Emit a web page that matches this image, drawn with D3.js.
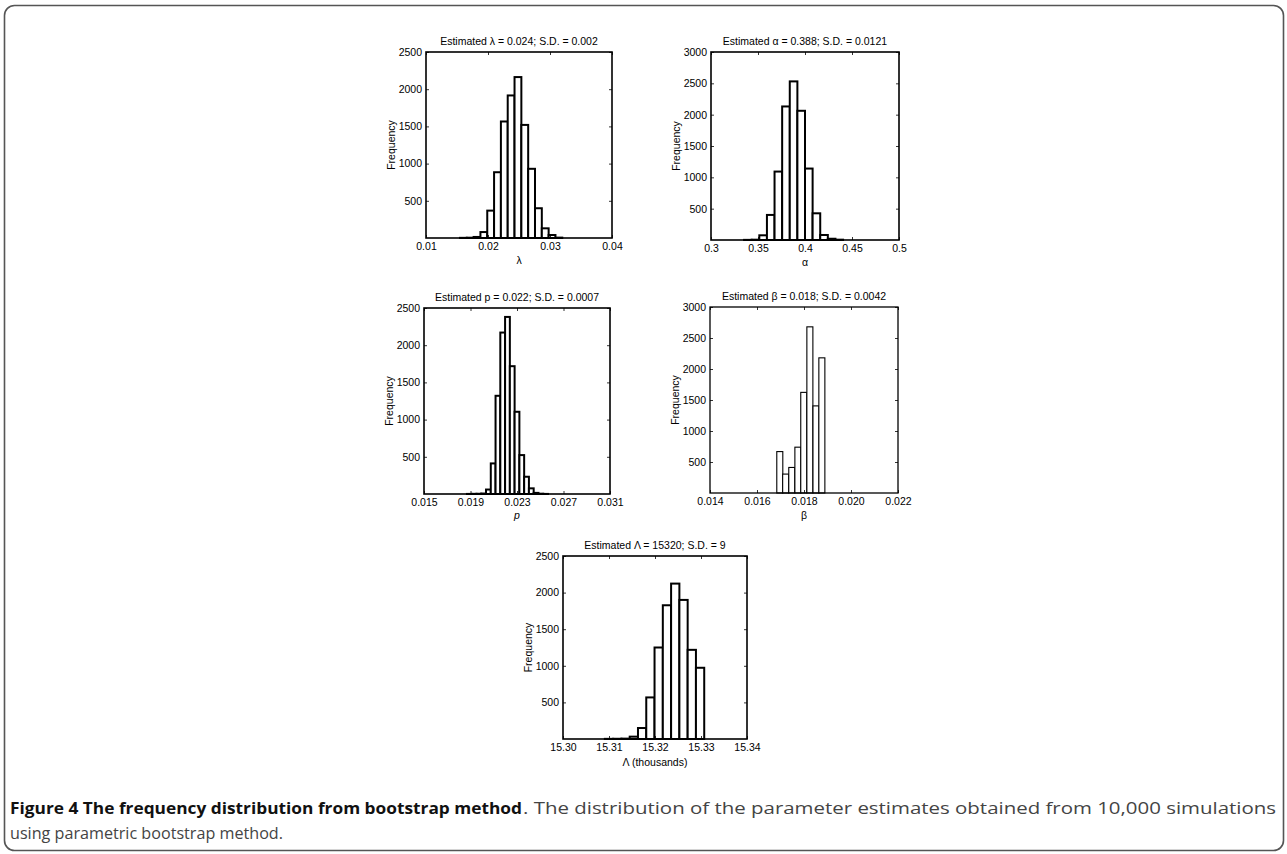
<!DOCTYPE html>
<html>
<head>
<meta charset="utf-8">
<script src="https://cdn.jsdelivr.net/npm/d3@7"></script>
<style>
  body { margin: 0; background: #fff; }
  svg text { font-family: "Liberation Sans", Arial, sans-serif; }
  svg text.caption { font-family: "Open Sans", sans-serif; }
</style>
</head>
<body>
<div id="chart"></div>
<script>
// Histogram values (bin centres + counts)
const lambdaBins = [0.01603, 0.01713, 0.01823, 0.01933, 0.02043, 0.02153, 0.02263, 0.02373, 0.02483, 0.02593, 0.02703, 0.02813, 0.02923, 0.03033, 0.03143];
const lambdaCounts = [2, 4, 14, 80, 368, 884, 1566, 1916, 2163, 1520, 930, 400, 130, 40, 5];
const lambdaWidth = 0.0011;
const lambdaTicks = [0.01, 0.02, 0.03, 0.04];
const lambdaTickLabels = ["0.01", "0.02", "0.03", "0.04"];

const alphaBins = [0.33925, 0.34735, 0.35545, 0.36355, 0.37165, 0.37975, 0.38785, 0.39595, 0.40405, 0.41215, 0.42025, 0.42835, 0.43645];
const alphaCounts = [2, 5, 75, 400, 1092, 2131, 2531, 2062, 1140, 426, 80, 20, 5];
const alphaWidth = 0.0081;
const alphaTicks = [0.3, 0.35, 0.4, 0.45, 0.5];
const alphaTickLabels = ["0.3", "0.35", "0.4", "0.45", "0.5"];

const pBins = [0.01890, 0.01931, 0.01972, 0.02013, 0.02054, 0.02095, 0.02136, 0.02177, 0.02218, 0.02259, 0.02300, 0.02341, 0.02382, 0.02423, 0.02464, 0.02505, 0.02546];
const pCounts = [1, 2, 3, 6, 60, 411, 1320, 2170, 2380, 1718, 1105, 523, 232, 76, 15, 4, 1];
const pWidth = 0.00041;
const pTicks = [0.015, 0.019, 0.023, 0.027, 0.031];
const pTickLabels = ["0.015", "0.019", "0.023", "0.027", "0.031"];

const betaBins = [0.01697, 0.01722, 0.01748, 0.01774, 0.01799, 0.01825, 0.01851, 0.01876];
const betaCounts = [668, 305, 412, 739, 1623, 2680, 1405, 2180];
const betaWidth = 0.000256;
const betaTicks = [0.014, 0.016, 0.018, 0.020, 0.022];
const betaTickLabels = ["0.014", "0.016", "0.018", "0.020", "0.022"];

const bigLambdaBins = [15.3100, 15.3118, 15.3136, 15.3154, 15.3172, 15.3190, 15.3208, 15.3226, 15.3244, 15.3262, 15.3280, 15.3298];
const bigLambdaCounts = [2, 3, 5, 32, 150, 568, 1250, 1827, 2123, 1900, 1218, 973];
const bigLambdaWidth = 0.0018;
const bigLambdaTicks = [15.30, 15.31, 15.32, 15.33, 15.34];
const bigLambdaTickLabels = ["15.30", "15.31", "15.32", "15.33", "15.34"];

const freqTicks2500 = [500, 1000, 1500, 2000, 2500];
const freqTicks3000 = [500, 1000, 1500, 2000, 2500, 3000];

const captionBold = "Figure 4 The frequency distribution from bootstrap method";
const captionRest = ". The distribution of the parameter estimates obtained from 10,000 simulations";
const captionLine2 = "using parametric bootstrap method.";

const W = 1287, H = 854;
const FS = 10.5;
const svg = d3.select("#chart").append("svg")
    .attr("width", W).attr("height", H);

// outer rounded frame
svg.append("rect")
    .attr("x", 4.5).attr("y", 5.5)
    .attr("width", 1279).attr("height", 845)
    .attr("rx", 10).attr("ry", 10)
    .attr("fill", "none").attr("stroke", "#555").attr("stroke-width", 1.6);

function drawPanel(p) {
    const g = svg.append("g");
    const x = d3.scaleLinear().domain(p.xDomain).range([p.x0, p.x1]);
    const y = d3.scaleLinear().domain([0, p.yMax]).range([p.y1, p.y0]);

    // bars
    g.selectAll("rect.bar")
        .data(p.bins.map((c, i) => ({c: c, n: p.counts[i]})))
        .join("rect")
        .attr("class", "bar")
        .attr("x", d => x(d.c - p.width / 2))
        .attr("width", d => x(d.c + p.width / 2) - x(d.c - p.width / 2))
        .attr("y", d => y(d.n))
        .attr("height", d => y(0) - y(d.n))
        .attr("fill", "#fff")
        .attr("stroke", "#000")
        .attr("stroke-width", p.barStroke);

    // inward ticks on all four sides
    const tickLen = 3;
    const fmt = (d) => p.tickLabels[p.ticks.indexOf(d)];
    const bottom = g.append("g").attr("transform", `translate(0,${p.y1})`)
        .call(d3.axisBottom(x).tickValues(p.ticks).tickFormat(fmt).tickSizeInner(-tickLen).tickSizeOuter(0).tickPadding(5));
    const top = g.append("g").attr("transform", `translate(0,${p.y0})`)
        .call(d3.axisTop(x).tickValues(p.ticks).tickFormat("").tickSizeInner(-tickLen).tickSizeOuter(0));
    const left = g.append("g").attr("transform", `translate(${p.x0},0)`)
        .call(d3.axisLeft(y).tickValues(p.yTicks).tickFormat(d3.format("d")).tickSizeInner(-tickLen).tickSizeOuter(0).tickPadding(4));
    const right = g.append("g").attr("transform", `translate(${p.x1},0)`)
        .call(d3.axisRight(y).tickValues(p.yTicks).tickFormat("").tickSizeInner(-tickLen).tickSizeOuter(0));
    [bottom, top, left, right].forEach(a => {
        a.select(".domain").remove();
        a.selectAll("line").attr("stroke", "#000").attr("stroke-width", 0.8);
        a.selectAll("text").attr("fill", "#000").attr("font-size", FS);
    });

    // box
    g.append("rect")
        .attr("x", p.x0).attr("y", p.y0)
        .attr("width", p.x1 - p.x0).attr("height", p.y1 - p.y0)
        .attr("fill", "none").attr("stroke", "#000").attr("stroke-width", p.boxStroke);

    // title
    g.append("text")
        .attr("x", (p.x0 + p.x1) / 2).attr("y", p.y0 - 7.5)
        .attr("text-anchor", "middle").attr("font-size", FS)
        .text(p.title);

    // x label
    g.append("text")
        .attr("x", (p.x0 + p.x1) / 2).attr("y", p.y1 + p.xLabelOff)
        .attr("text-anchor", "middle").attr("font-size", FS)
        .attr("font-style", p.xLabelItalic ? "italic" : "normal")
        .text(p.xLabel);

    // y label
    g.append("text")
        .attr("transform", `translate(${p.x0 - 31.5},${(p.y0 + p.y1) / 2}) rotate(-90)`)
        .attr("text-anchor", "middle").attr("font-size", FS)
        .text("Frequency");
}

drawPanel({x0: 426, x1: 612, y0: 52, y1: 238, xDomain: [0.01, 0.04], yMax: 2500,
    bins: lambdaBins, counts: lambdaCounts, width: lambdaWidth,
    ticks: lambdaTicks, tickLabels: lambdaTickLabels, yTicks: freqTicks2500,
    title: "Estimated \u03bb = 0.024; S.D. = 0.002", xLabel: "\u03bb", xLabelOff: 25.5,
    barStroke: 2, boxStroke: 1.6});

drawPanel({x0: 711, x1: 899, y0: 52, y1: 240, xDomain: [0.3, 0.5], yMax: 3000,
    bins: alphaBins, counts: alphaCounts, width: alphaWidth,
    ticks: alphaTicks, tickLabels: alphaTickLabels, yTicks: freqTicks3000,
    title: "Estimated \u03b1 = 0.388; S.D. = 0.0121", xLabel: "\u03b1", xLabelOff: 25.5,
    barStroke: 2, boxStroke: 1.6});

drawPanel({x0: 424, x1: 610, y0: 308, y1: 494, xDomain: [0.015, 0.031], yMax: 2500,
    bins: pBins, counts: pCounts, width: pWidth,
    ticks: pTicks, tickLabels: pTickLabels, yTicks: freqTicks2500,
    title: "Estimated p = 0.022; S.D. = 0.0007", xLabel: "p", xLabelOff: 25, xLabelItalic: true,
    barStroke: 2, boxStroke: 1.6});

drawPanel({x0: 710, x1: 898, y0: 307, y1: 493, xDomain: [0.014, 0.022], yMax: 3000,
    bins: betaBins, counts: betaCounts, width: betaWidth,
    ticks: betaTicks, tickLabels: betaTickLabels, yTicks: freqTicks3000,
    title: "Estimated \u03b2 = 0.018; S.D. = 0.0042", xLabel: "\u03b2", xLabelOff: 25.5,
    barStroke: 1.1, boxStroke: 1.3});

drawPanel({x0: 563, x1: 747, y0: 556, y1: 739, xDomain: [15.30, 15.34], yMax: 2500,
    bins: bigLambdaBins, counts: bigLambdaCounts, width: bigLambdaWidth,
    ticks: bigLambdaTicks, tickLabels: bigLambdaTickLabels, yTicks: freqTicks2500,
    title: "Estimated \u039b = 15320; S.D. = 9", xLabel: "\u039b (thousands)", xLabelOff: 27,
    barStroke: 2, boxStroke: 1.6});

// caption (condensed look: glyphs squeezed to the widths seen in the figure)
svg.append("text").attr("class", "caption")
    .attr("x", 10).attr("y", 814)
    .attr("font-size", 16.5).attr("font-weight", "bold")
    .attr("fill", "#111")
    .attr("textLength", 512).attr("lengthAdjust", "spacingAndGlyphs")
    .text(captionBold);
svg.append("text").attr("class", "caption")
    .attr("x", 523).attr("y", 814)
    .attr("font-size", 16.5)
    .attr("fill", "#444")
    .attr("textLength", 753).attr("lengthAdjust", "spacingAndGlyphs")
    .text(captionRest);
svg.append("text").attr("class", "caption")
    .attr("x", 10).attr("y", 839)
    .attr("font-size", 16.5)
    .attr("fill", "#444")
    .attr("textLength", 273).attr("lengthAdjust", "spacingAndGlyphs")
    .text(captionLine2);
</script>
</body>
</html>
